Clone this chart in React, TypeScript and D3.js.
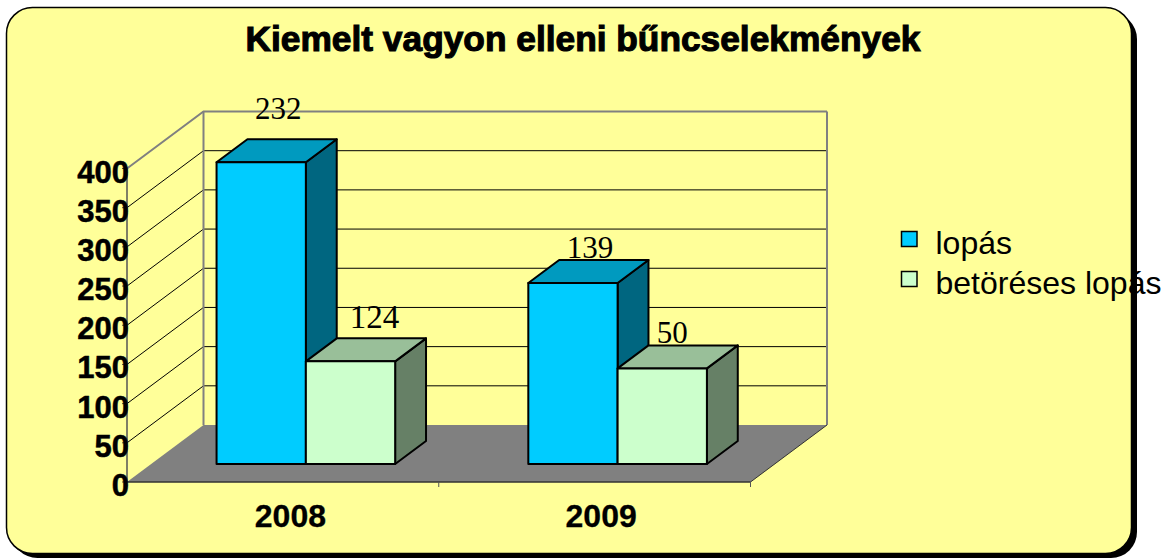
import React from "react";
import * as d3 from "d3";

const titleText = "Kiemelt vagyon elleni bűncselekmények";
const categories = ["2008", "2009"];
const seriesNames = ["lopás", "betöréses lopás"];
// drawn bar heights on the value axis
const lopasHeights = [385, 231];
const betoresHeights = [131, 122];
// printed data labels (differ from the drawn heights in the source)
const lopasLabels = ["232", "139"];
const betoresLabels = ["124", "50"];
const valueTicks = [0, 50, 100, 150, 200, 250, 300, 350, 400];

const W = 1171, H = 559;
const X0 = 127, X1 = 750.5, Y0 = 482, Y400 = 168.5;
const DX = 76.5, DY = -57;
const x = d3.scaleBand<string>().domain(categories).range([X0, X1]);
const y = d3.scaleLinear().domain([0, 400]).range([Y0, Y400]);
const inner = d3.scaleBand<string>().domain(seriesNames).range([65.4, 65.4 + 178.6]);
const dFront = 18 / 57, dBack = 41 / 57;
const proj = (px: number, v: number, d: number): [number, number] => [px + d * DX, y(v) + d * DY];
const poly = (pts: [number, number][]) => pts.map(p => p.join(",")).join(" ");

const seriesStyle = [
  { front: "#00CCFF", top: "#009ABF", side: "#006680" },
  { front: "#CCFFCC", top: "#99BF99", side: "#668066" },
];
const labelOffsets = [
  [[17, -43], [24, -33]],
  [[17, -25], [10, -25]],
];
const labelSizes = [[31, 33], [31, 31]];
const heights = [lopasHeights, betoresHeights];
const labels = [lopasLabels, betoresLabels];
const legendY = [240, 280];

export default function App() {
  const floor: [number, number][] = [proj(X0, 0, 0), proj(X1, 0, 0), proj(X1, 0, 1), proj(X0, 0, 1)];
  return (
    <svg width={W} height={H} style={{ position: "absolute", left: 0, top: 0, background: "#fff" }}>
      <defs>
        <filter id="soft" x="-2%" y="-2%" width="104%" height="104%"><feGaussianBlur stdDeviation="0.6" /></filter>
      </defs>
      <rect x={11.5} y={13} width={1125.5} height={545} rx={26} fill="#000" filter="url(#soft)" />
      <rect x={6.5} y={7.5} width={1125} height={546} rx={26} fill="#FFFF99" stroke="#000" strokeWidth={1.5} />
      <text x={583} y={51} textAnchor="middle" fontFamily="Liberation Sans" fontWeight="bold" fontSize={35.3} stroke="#000" strokeWidth={1.1}>{titleText}</text>

      {valueTicks.map(t => {
        const a = proj(X0, t, 0), b = proj(X0, t, 1), c = proj(X1, t, 1);
        const isTop = t === 400;
        return t === 0 ? null : (
          <polyline key={t} points={poly([a, b, c])} fill="none" stroke={isTop ? "#808080" : "#000"} strokeWidth={isTop ? 2 : 1} />
        );
      })}
      <line x1={X0 + DX} x2={X0 + DX} y1={y(0) + DY} y2={y(400) + DY} stroke="#808080" strokeWidth={2} />
      <line x1={X1 + DX} x2={X1 + DX} y1={y(0) + DY} y2={y(400) + DY} stroke="#808080" strokeWidth={2} />
      <polygon points={poly(floor)} fill="#808080" />
      <line x1={X1} y1={Y0} x2={X1 + DX} y2={Y0 + DY} stroke="#333" strokeWidth={1} />
      <line x1={X0} x2={X0} y1={Y0} y2={Y400} stroke="#555" strokeWidth={1.5} />
      <line x1={X0} x2={X1} y1={Y0} y2={Y0} stroke="#333" strokeWidth={1.5} />
      {valueTicks.map(t => <line key={t} x1={X0 - 5} x2={X0} y1={y(t)} y2={y(t)} stroke="#555" />)}
      {[X0, X0 + x.bandwidth(), X1].map(px => <line key={px} x1={px} x2={px} y1={Y0} y2={Y0 + 5} stroke="#555" />)}

      {categories.map((cat, ci) => (
        <g key={cat}>
          {seriesNames.map((s, si) => {
            const left = x(cat)! + inner(s)!;
            const right = left + inner.bandwidth();
            const v = heights[si][ci];
            const st = seriesStyle[si];
            const fb = proj(left, 0, dFront), fbr = proj(right, 0, dFront);
            const ft = proj(left, v, dFront), ftr = proj(right, v, dFront);
            const bt = proj(left, v, dBack), btr = proj(right, v, dBack), bbr = proj(right, 0, dBack);
            return (
              <g key={s} stroke="#000" strokeWidth={2} strokeLinejoin="round">
                <polygon points={poly([ftr, btr, bbr, fbr])} fill={st.side} />
                <polygon points={poly([ft, bt, btr, ftr])} fill={st.top} />
                <polygon points={poly([fb, ft, ftr, fbr])} fill={st.front} />
              </g>
            );
          })}
        </g>
      ))}
      {categories.map((cat, ci) => seriesNames.map((s, si) => {
        const left = x(cat)! + inner(s)!;
        const ft = proj(left + inner.bandwidth() / 2, heights[si][ci], dFront);
        const off = labelOffsets[ci][si];
        return <text key={cat + s} x={ft[0] + off[0]} y={ft[1] + off[1]} textAnchor="middle" fontFamily="Liberation Serif" fontSize={labelSizes[ci][si]} fill="#000">{labels[si][ci]}</text>;
      }))}

      {valueTicks.map(t => (
        <text key={t} x={X0 + 2} y={y(t) + 14} textAnchor="end" fontFamily="Liberation Sans" fontWeight="bold" fontSize={31} stroke="#000" strokeWidth={0.5}>{t}</text>
      ))}
      {categories.map((cat, i) => (
        <text key={cat} x={x(cat)! + x.bandwidth() / 2 + 7.5 - i} y={527} textAnchor="middle" fontFamily="Liberation Sans" fontWeight="bold" fontSize={32} stroke="#000" strokeWidth={0.3}>{cat}</text>
      ))}

      {seriesNames.map((s, i) => (
        <g key={s}>
          <rect x={901.5} y={legendY[i] - 8.5} width={15.5} height={15} fill={seriesStyle[i].front} stroke="#000" strokeWidth={1.5} />
          <text x={935.5} y={legendY[i] + 14} fontFamily="Liberation Sans" fontSize={32} fill="#000">{s}</text>
        </g>
      ))}
    </svg>
  );
}
